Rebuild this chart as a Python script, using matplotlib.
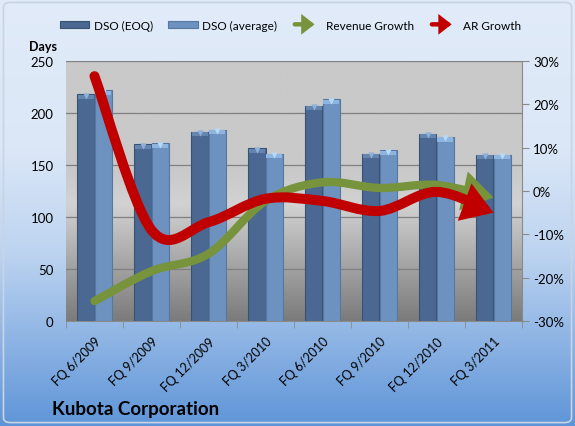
"""
DSO vs. revenue / AR growth for Kubota Corporation, Excel-style combo chart.
"""

import matplotlib
matplotlib.use("Agg")
import matplotlib.pyplot as plt
import numpy as np
from matplotlib.colors import LinearSegmentedColormap
from matplotlib.lines import Line2D
from matplotlib.patches import FancyArrowPatch, FancyBboxPatch, Patch
from matplotlib.path import Path
from matplotlib.ticker import MultipleLocator, PercentFormatter

QUARTERS = ["FQ 6/2009", "FQ 9/2009", "FQ 12/2009", "FQ 3/2010",
            "FQ 6/2010", "FQ 9/2010", "FQ 12/2010", "FQ 3/2011"]
DSO_EOQ = [218, 170, 182, 166, 207, 161, 180, 160]
DSO_AVG = [222, 171, 184, 161, 213, 164, 177, 160]
REV_GROWTH = [-25.4, -18.5, -14.5, -2.3, 2.0, 0.7, 1.4, -1.5]   # percent
AR_GROWTH = [26.5, -9.0, -7.2, -1.8, -2.3, -4.6, -0.2, -5.0]    # percent

EOQ_COLOR = "#4a6891"
AVG_COLOR = "#6d92c0"
GREEN = "#77933c"
RED = "#c00000"

plt.rcParams["font.family"] = ["Lato", "DejaVu Sans"]
plt.rcParams["axes.unicode_minus"] = False


def smooth_path(xs, ys):
    # Excel-like smoothed line: Catmull-Rom segments as cubic beziers
    pts = np.column_stack([xs, ys]).astype(float)
    n = len(pts)
    verts = [pts[0]]
    codes = [Path.MOVETO]
    for i in range(n - 1):
        p0 = pts[max(i - 1, 0)]
        p1, p2 = pts[i], pts[i + 1]
        p3 = pts[min(i + 2, n - 1)]
        verts += [p1 + (p2 - p0) / 6, p2 - (p3 - p1) / 6, p2]
        codes += [Path.CURVE4] * 3
    return Path(verts, codes)


class ArrowHandler:
    def __init__(self, lw, scale):
        self.lw = lw
        self.scale = scale

    def legend_artist(self, legend, orig_handle, fontsize, handlebox):
        x0, y0 = handlebox.xdescent, handlebox.ydescent
        w, h = handlebox.width, handlebox.height
        arr = FancyArrowPatch((-x0, -y0 + h / 2), (-x0 + w - 3, -y0 + h / 2),
                              arrowstyle="-|>,head_length=0.9,head_width=0.7",
                              mutation_scale=self.scale, lw=self.lw,
                              color=orig_handle.get_color(),
                              capstyle="round", joinstyle="miter",
                              transform=handlebox.get_transform())
        handlebox.add_artist(arr)
        return arr


fig = plt.figure(figsize=(5.75, 4.27), dpi=100)

# figure background: light-to-mid blue vertical gradient
bg = fig.add_axes([0, 0, 1, 1], zorder=-10)
bg_cmap = LinearSegmentedColormap.from_list(
    "bg", [(0, "#5f95d8"), (0.4, "#bcd3f0"), (0.65, "#dbe7f7"), (1, "#e1ebf9")])
bg.imshow(np.linspace(0, 1, 256).reshape(-1, 1), cmap=bg_cmap, origin="lower",
          aspect="auto", extent=[0, 1, 0, 1])
bg.add_patch(FancyBboxPatch((0.006, 0.008), 0.988, 0.984,
                            boxstyle="round,pad=0,rounding_size=0.012",
                            fc="none", ec="#c8d4e4", lw=1.2))
bg.set_xlim(0, 1)
bg.set_ylim(0, 1)
bg.axis("off")

ax = fig.add_axes([66 / 575, 1 - 322 / 427, 456 / 575, 260 / 427])
x = np.arange(len(QUARTERS))

# plot area: grey gradient, lighter band near the middle
pa_cmap = LinearSegmentedColormap.from_list(
    "pa", [(0, "#7b7b7b"), (0.45, "#d2d2d2"), (0.58, "#c9c9c9"), (1, "#c9c9c9")])
ax.imshow(np.linspace(0, 1, 256).reshape(-1, 1), cmap=pa_cmap, origin="lower",
          aspect="auto", extent=[-0.5, 7.5, 0, 250], zorder=0)

w = 0.3
eoq = np.array(DSO_EOQ, dtype=float)
avg = np.array(DSO_AVG, dtype=float)
ax.bar(x - w / 2, eoq, w, color=EOQ_COLOR, edgecolor="#3a5272", lw=0.8, zorder=2)
ax.bar(x + w / 2, avg, w, color=AVG_COLOR, edgecolor="#56779f", lw=0.8, zorder=2)
# bevelled tops
ax.bar(x - w / 2, np.full(len(x), 4.0), w * 0.9, bottom=eoq - 4.5,
       color="#6485b0", lw=0, zorder=3)
ax.bar(x + w / 2, np.full(len(x), 4.0), w * 0.9, bottom=avg - 4.5,
       color="#8db5df", lw=0, zorder=3)
ax.scatter(x - w / 2, eoq - 1.5, marker="v", s=20, color="#8fb0d8", lw=0, zorder=4)
ax.scatter(x + w / 2, avg - 1.5, marker="v", s=20, color="#b8daf3", lw=0, zorder=4)

ax.set_xlim(-0.5, 7.5)
ax.set_ylim(0, 250)
ax.yaxis.set_major_locator(MultipleLocator(50))
ax.yaxis.grid(True, color="#808080", lw=0.9)
ax.set_axisbelow(True)
ax.set_xticks(x)
ax.set_xticklabels(QUARTERS, rotation=45, ha="right", rotation_mode="anchor",
                   fontsize=9)
ax.set_xticks(np.arange(-0.5, 8, 1), minor=True)
ax.tick_params(axis="x", which="major", length=0, pad=10)
ax.tick_params(axis="x", which="minor", length=5, color="#8a8a8a")
ax.tick_params(axis="y", length=0, pad=9, labelsize=9.5)
for side in ("left", "top", "right"):
    ax.spines[side].set_visible(False)
ax.spines["bottom"].set_color("#8a8a8a")

ax2 = ax.twinx()
ax2.set_ylim(-30, 30)
ax2.yaxis.set_major_locator(MultipleLocator(10))
ax2.yaxis.set_major_formatter(PercentFormatter(decimals=0))
ax2.tick_params(axis="y", length=5, color="#8a8a8a", pad=3, labelsize=9.5)
for side in ("left", "top", "bottom"):
    ax2.spines[side].set_visible(False)
ax2.spines["right"].set_color("#8a8a8a")

for vals, color, lw, scale in ((REV_GROWTH, GREEN, 6.0, 16),
                               (AR_GROWTH, RED, 7.2, 14)):
    arr = FancyArrowPatch(path=smooth_path(x, vals),
                          arrowstyle="-|>,head_length=0.85,head_width=0.55",
                          mutation_scale=scale, color=color, lw=lw,
                          capstyle="round", joinstyle="miter", zorder=5)
    ax2.add_patch(arr)

fig.text(29 / 575, 1 - 47 / 427, "Days", fontsize=9, fontweight="bold",
         va="center")
fig.text(52 / 575, 1 - 410 / 427, "Kubota Corporation", fontsize=13.5,
         fontweight="bold", va="center")

h_eoq = Patch(facecolor=EOQ_COLOR, edgecolor="#3a5272", lw=0.8)
h_avg = Patch(facecolor=AVG_COLOR, edgecolor="#56779f", lw=0.8)
h_rev = Line2D([], [], color=GREEN)
h_ar = Line2D([], [], color=RED)
fig.legend([h_eoq, h_avg, h_rev, h_ar],
           ["DSO (EOQ)", "DSO (average)", "Revenue Growth", "AR Growth"],
           loc="center", bbox_to_anchor=(0.505, 1 - 26 / 427), ncol=4,
           frameon=False, fontsize=8.5, handlelength=2.5, handleheight=0.5,
           handletextpad=0.35, columnspacing=1.3,
           handler_map={h_rev: ArrowHandler(3.2, 6), h_ar: ArrowHandler(3.2, 6)})

fig.savefig("out.png", dpi=100)
